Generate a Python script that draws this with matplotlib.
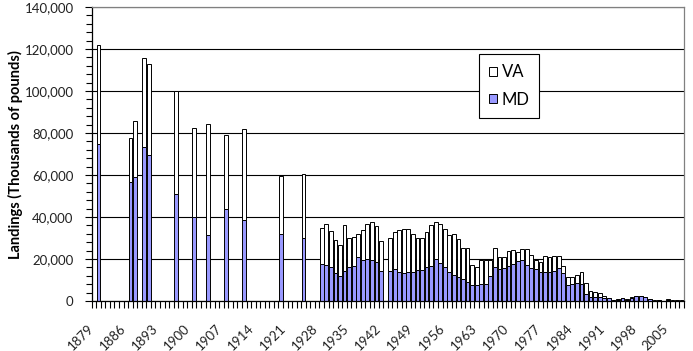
import numpy as np
import matplotlib
matplotlib.use('Agg')
import matplotlib.pyplot as plt
from matplotlib.ticker import MultipleLocator, FuncFormatter, FixedLocator
from matplotlib.transforms import ScaledTranslation

plt.rcParams['font.family'] = ['Lato', 'DejaVu Sans']

# survey years with landings (thousands of pounds)
years = [1880, 1887, 1888, 1890, 1891, 1897, 1901, 1904, 1908, 1912, 1920, 1925,
         1929, 1930, 1931, 1932, 1933, 1934, 1935, 1936, 1937, 1938, 1939, 1940,
         1941, 1942,
         1944, 1945, 1946, 1947, 1948, 1949, 1950, 1951, 1952, 1953, 1954, 1955,
         1956, 1957, 1958, 1959, 1960, 1961, 1962, 1963, 1964, 1965, 1966, 1967,
         1968, 1969, 1970, 1971, 1972, 1973, 1974, 1975, 1976, 1977, 1978, 1979,
         1980, 1981, 1982, 1983, 1984, 1985, 1986, 1987, 1988, 1989, 1990, 1991,
         1992, 1993, 1994, 1995, 1996, 1997, 1998, 1999, 2000, 2001, 2002, 2003,
         2004, 2005, 2006, 2007, 2008]

md = [74.6, 56.8, 59.2, 73.2, 69.4, 50.8, 39.8, 31.3, 43.6, 38.4, 31.7, 29.8,
      17.5, 16.9, 16.4, 13.1, 11.8, 14.2, 16.0, 16.6, 20.8, 19.5, 20.2, 19.5,
      18.5, 14.2,
      14.3, 15.1, 13.8, 13.4, 13.6, 14.0, 14.6, 14.6, 16.0, 16.7, 19.8, 18.0,
      16.0, 14.0, 12.5, 11.5, 10.5, 9.0, 7.6, 7.5, 8.0, 8.3, 12.0, 16.3,
      15.0, 15.5, 16.5, 17.5, 19.0, 19.5, 17.0, 15.8, 15.3, 14.0, 13.8, 14.0,
      14.3, 15.6, 13.5, 7.6, 8.2, 8.4, 8.1, 3.5, 1.8, 1.9, 1.7, 1.5,
      1.2, 0.3, 0.6, 1.2, 0.6, 1.6, 2.4, 2.4, 1.7, 0.8, 0.2, 0.3,
      0.1, 0.3, 0.2, 0.2, 0.2]

va = [47.3, 20.6, 26.3, 42.3, 43.3, 49.0, 42.4, 52.8, 35.3, 43.3, 28.0, 30.7,
      17.3, 19.7, 17.0, 16.1, 14.8, 21.8, 13.8, 13.8, 11.1, 14.4, 16.4, 18.0,
      17.3, 14.6,
      15.5, 17.7, 20.1, 20.8, 20.9, 17.8, 15.2, 15.2, 17.0, 19.3, 17.7, 18.5,
      18.5, 17.4, 19.5, 17.9, 14.6, 16.1, 9.3, 8.8, 11.5, 11.2, 7.5, 8.8,
      6.1, 5.5, 7.1, 6.9, 4.3, 5.1, 7.6, 6.1, 4.2, 4.5, 7.5, 6.8,
      7.3, 5.6, 3.0, 3.8, 3.3, 4.2, 5.5, 4.9, 3.0, 2.2, 2.1, 0.8,
      0.4, 0.1, 0.4, 0.1, 0.2, 0.3, 0.1, 0.1, 0.2, 0.2, 0.1, 0.0,
      0.0, 0.5, 0.1, 0.1, 0.1]

label_years = list(range(1879, 2006, 7))

md_vals = np.array(md) * 1000
va_vals = np.array(va) * 1000

fig = plt.figure(figsize=(6.93, 3.51), dpi=100)
ax = fig.add_axes([0.1323, 0.1425, 0.8547, 0.8376])

b_md = ax.bar(years, md_vals, width=0.82, color='#9999ff', edgecolor='black',
              linewidth=0.7, label='MD')
b_va = ax.bar(years, va_vals, bottom=md_vals, width=0.82, color='white',
              edgecolor='black', linewidth=0.7, label='VA')

ax.set_xlim(1878.5, 2008.5)
ax.set_ylim(0, 140000)

# y axis
ax.yaxis.set_major_locator(MultipleLocator(20000))
ax.yaxis.set_minor_locator(MultipleLocator(4000))
ax.yaxis.set_major_formatter(FuncFormatter(lambda v, p: f'{v:,.0f}'))
ax.tick_params(axis='y', which='major', length=5, width=0.8, pad=8, labelsize=9.5,
               labelcolor='#222222')
ax.tick_params(axis='y', which='minor', length=4, width=0.8)
ax.grid(axis='y', which='major', color='black', linewidth=0.8)
ax.set_axisbelow(True)

# x axis: tick marks at every category boundary, labels every 7 years
ax.xaxis.set_minor_locator(FixedLocator(np.arange(1878.5, 2009, 1)))
ax.set_xticks(label_years)
ax.set_xticklabels([str(y) for y in label_years], rotation=45, ha='right',
                   va='top', rotation_mode='anchor')
ax.tick_params(axis='x', which='major', length=0, pad=15, labelsize=9.5,
               labelcolor='#222222')
ax.tick_params(axis='x', which='minor', length=5, width=0.8)
for lab in ax.get_xticklabels():
    lab.set_transform(lab.get_transform() +
                      ScaledTranslation(-0.06, 0, fig.dpi_scale_trans))

for s in ['left', 'bottom']:
    ax.spines[s].set_color('black')
    ax.spines[s].set_linewidth(0.9)
for s in ['top', 'right']:
    ax.spines[s].set_color('#808080')
    ax.spines[s].set_linewidth(0.9)

fig.text(0.022, 0.56, 'Landings (Thousands of pounds)', rotation=90,
         ha='center', va='center', fontsize=10.5, fontweight='bold')

leg = ax.legend([b_va, b_md], ['VA', 'MD'], loc='upper left',
                bbox_to_anchor=(0.654, 0.84), fontsize=12, frameon=True,
                fancybox=False, edgecolor='black', framealpha=1,
                handlelength=0.45, handleheight=0.45, handletextpad=0.3,
                labelspacing=0.7, borderpad=0.6, borderaxespad=0)
leg.get_frame().set_linewidth(0.8)

fig.savefig('out.png', dpi=100)
